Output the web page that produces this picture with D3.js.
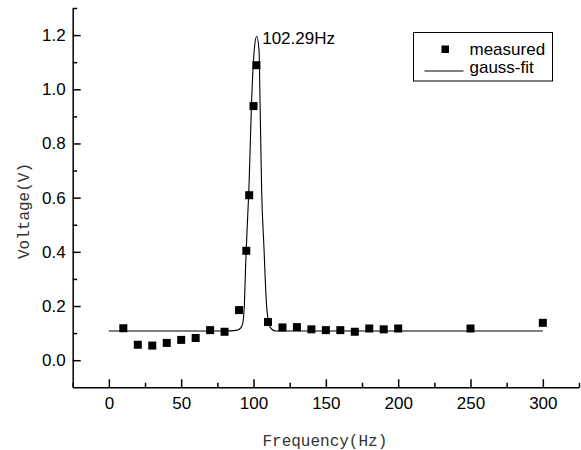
<!DOCTYPE html>
<html>
<head>
<meta charset="utf-8">
<script src="https://cdn.jsdelivr.net/npm/d3@7"></script>
<style>
  body { margin: 0; background: #fff; }
  .tick text { font-family: "Liberation Sans", Arial, sans-serif; font-size: 17px; fill: #000; }
  .axis path, .axis line { stroke: #000; stroke-width: 1.5px; }
  .title { font-family: "Liberation Mono", "DejaVu Sans Mono", monospace; font-size: 16px; fill: #333; }
  .lbl { font-family: "Liberation Sans", Arial, sans-serif; font-size: 17px; fill: #000; }
</style>
</head>
<body>
<div id="chart"></div>
<script>
// measured points
let freq = [10, 20, 30, 40, 50, 60, 70, 80, 90, 95, 97, 100, 102, 110, 120, 130, 140, 150, 160, 170, 180, 190, 200, 250, 300];
let volt = [0.118, 0.057, 0.054, 0.064, 0.075, 0.082, 0.111, 0.105, 0.185, 0.404, 0.609, 0.938, 1.089, 0.141,
            0.121, 0.122, 0.114, 0.111, 0.111, 0.105, 0.117, 0.114, 0.117, 0.117, 0.138];

// gauss fit curve
let fitFreq = [0, 80, 88, 91, 92.5, 93.6, 94.6, 95.7, 96.8, 98.7, 100.5, 102.2, 103.8, 104.5, 105.6, 107.2, 109.1, 111.4, 115, 120, 300];
let fitVolt = [0.108, 0.108, 0.110, 0.118, 0.135, 0.197, 0.357, 0.50, 0.63, 0.96, 1.145, 1.196, 1.145, 0.96, 0.63, 0.418, 0.197, 0.123, 0.108, 0.108, 0.108];

let peakLabel = '102.29Hz', peakFreq = 102.2, peakVolt = 1.196;

let xMajor = [0, 50, 100, 150, 200, 250, 300],
    xMinor = [-25, 25, 75, 125, 175, 225, 275, 325];
let yMajor = [0, 0.2, 0.4, 0.6, 0.8, 1.0, 1.2],
    yMinor = [0.1, 0.3, 0.5, 0.7, 0.9, 1.1, 1.3];

let seriesNames = ['measured', 'gauss-fit'];

let width = 581, height = 450;
let plotLeft = 72.7, plotRight = 579, plotTop = 8, plotBottom = 387.3;

let svg = d3.select('#chart').append('svg')
    .attr('width', width)
    .attr('height', height);

let x = d3.scaleLinear().domain([-25, 325]).range([plotLeft, plotRight]);
let y = d3.scaleLinear().domain([-0.1, 1.3]).range([plotBottom, plotTop]);

// axes (ticks point inward)
svg.append('g').attr('class', 'axis')
    .attr('transform', 'translate(0,' + plotBottom + ')')
    .call(d3.axisBottom(x).tickValues(xMinor).tickSize(-4.5).tickSizeOuter(0).tickFormat(''));
svg.append('g').attr('class', 'axis')
    .attr('transform', 'translate(0,' + plotBottom + ')')
    .call(d3.axisBottom(x).tickValues(xMajor).tickSize(-8).tickSizeOuter(0).tickPadding(10).tickFormat(d3.format('d')))
    .call(g => g.select('.domain').remove());

svg.append('g').attr('class', 'axis')
    .attr('transform', 'translate(' + plotLeft + ',0)')
    .call(d3.axisLeft(y).tickValues(yMinor).tickSize(-4.5).tickSizeOuter(0).tickFormat(''));
svg.append('g').attr('class', 'axis')
    .attr('transform', 'translate(' + plotLeft + ',0)')
    .call(d3.axisLeft(y).tickValues(yMajor).tickSize(-8).tickSizeOuter(0).tickPadding(7).tickFormat(d3.format('.1f')))
    .call(g => g.select('.domain').remove());

// axis titles
svg.append('text').attr('class', 'title')
    .attr('x', (plotLeft + plotRight) / 2 - 1)
    .attr('y', 446)
    .attr('text-anchor', 'middle')
    .text('Frequency(Hz)');
svg.append('text').attr('class', 'title')
    .attr('transform', 'translate(29,211) rotate(-90)')
    .attr('text-anchor', 'middle')
    .text('Voltage(V)');

// fit line
let fitData = fitFreq.map((f, i) => [f, fitVolt[i]]);
let line = d3.line()
    .x(d => x(d[0]))
    .y(d => y(d[1]))
    .curve(d3.curveMonotoneX);
svg.append('path')
    .datum(fitData)
    .attr('d', line)
    .attr('fill', 'none')
    .attr('stroke', '#000')
    .attr('stroke-width', 1.1);

// measured squares
let sq = 8;
svg.append('g').selectAll('rect')
    .data(freq.map((f, i) => [f, volt[i]]))
    .enter()
    .append('rect')
    .attr('x', d => x(d[0]) - sq / 2)
    .attr('y', d => y(d[1]) - sq / 2)
    .attr('width', sq)
    .attr('height', sq)
    .attr('fill', '#000');

// peak annotation
svg.append('text').attr('class', 'lbl')
    .attr('x', x(peakFreq) + 5.5)
    .attr('y', y(peakVolt) + 8)
    .text(peakLabel);

// legend
let lg = svg.append('g').attr('transform', 'translate(413.5,32.5)');
lg.append('rect')
    .attr('width', 139)
    .attr('height', 48.5)
    .attr('fill', '#fff')
    .attr('stroke', '#000')
    .attr('stroke-width', 1);
lg.append('rect')
    .attr('x', 28).attr('y', 13)
    .attr('width', 7.5).attr('height', 7.5)
    .attr('fill', '#000');
lg.append('line')
    .attr('x1', 11).attr('x2', 50)
    .attr('y1', 38.5).attr('y2', 38.5)
    .attr('stroke', '#000')
    .attr('stroke-width', 1.1);
lg.selectAll('text.lbl')
    .data(seriesNames)
    .enter()
    .append('text')
    .attr('class', 'lbl')
    .attr('x', 56)
    .attr('y', (d, i) => 22.5 + i * 18)
    .text(d => d);
</script>
</body>
</html>
